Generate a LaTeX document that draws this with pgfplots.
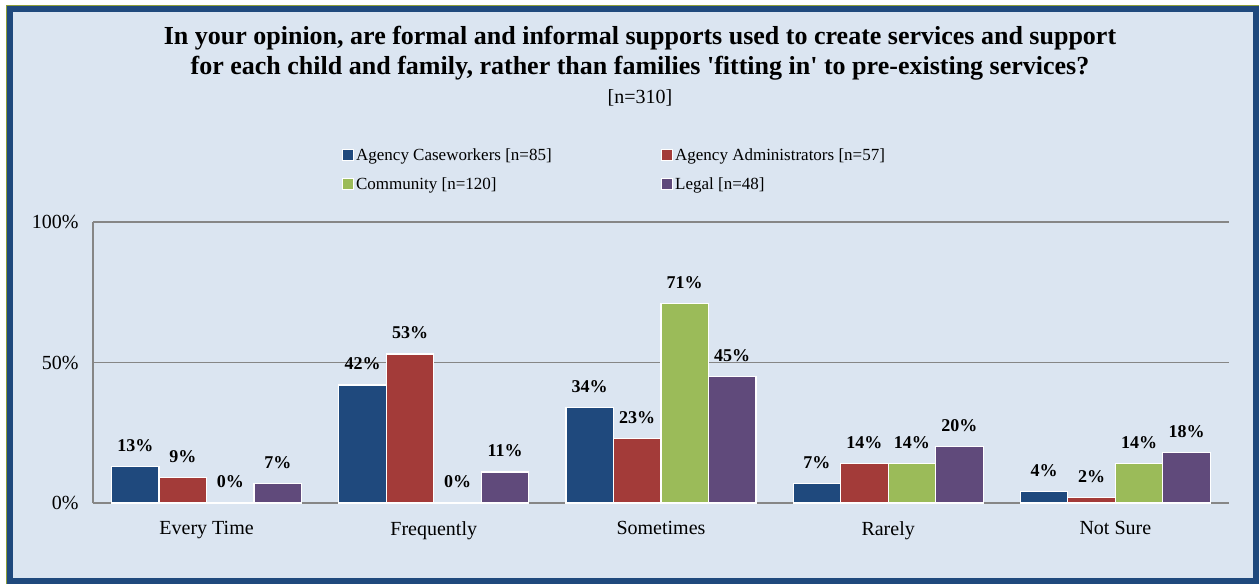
\documentclass[border=0pt]{standalone}
\usepackage{pgfplots}
\pgfplotsset{compat=1.18}
\usepackage{fontspec}
\setmainfont{Liberation Serif}
\definecolor{cblue}{HTML}{1F497D}
\definecolor{cred}{HTML}{A33B39}
\definecolor{cgreen}{HTML}{9BBB59}
\definecolor{cpurple}{HTML}{604A7B}
\definecolor{bgc}{HTML}{DBE5F1}
\definecolor{gridc}{HTML}{868686}
\definecolor{framec}{HTML}{1F497D}
\definecolor{olivec}{HTML}{8E9E3A}
\begin{document}
\begin{tikzpicture}
\useasboundingbox (0pt,0pt) rectangle (1259pt,584pt);
\fill[white] (0pt,0pt) rectangle (1259pt,584pt);
\fill[bgc] (6pt,0pt) rectangle (1259pt,578pt);
\draw[olivec, line width=1pt] (6.5pt,0pt) -- (6.5pt,578.5pt) -- (1259pt,578.5pt);
\draw[framec, line width=6pt] (10pt,3pt) rectangle (1256pt,575pt);
\node[font=\bfseries\fontsize{26}{30}\selectfont, align=center] at (640pt,531pt)
  {In your opinion, are formal and informal supports used to create services and support\\for each child and family, rather than families \textquotesingle fitting in\textquotesingle{} to pre-existing services?};
\node[font=\fontsize{20}{22}\selectfont] at (640pt,486pt) {[n=310]};
\begin{axis}[
  at={(93pt,81pt)}, anchor=south west,
  scale only axis, width=1136pt, height=281pt,
  ybar=0pt, bar width=47.5pt,
  xmin=-0.5, xmax=4.5, ymin=0, ymax=100,
  xtick={0,1,2,3,4},
  xticklabels={Every Time,Frequently,Sometimes,Rarely,Not Sure},
  ytick={0,50,100},
  yticklabel={\pgfmathprintnumber[assume math mode=true]{\tick}\%},
  ymajorgrids, grid style={gridc, line width=1.5pt},
  axis x line*=bottom, axis y line*=left,
  axis line style={gridc, line width=1.5pt, -},
  major tick length=0pt,
  tick label style={font=\fontsize{20}{22}\selectfont},
  xticklabel style={yshift=-15pt},
  yticklabel style={xshift=-11pt},
  every axis plot/.append style={draw=white, line width=1.2pt},
  nodes near coords={\pgfmathprintnumber[assume math mode=true]{\pgfplotspointmeta}\%},
  nodes near coords style={font=\bfseries\fontsize{18}{20}\selectfont, yshift=11pt, text=black},
  legend columns=2,
  legend image code/.code={\draw[#1,draw=white,line width=1pt] (0pt,-5pt) rectangle (11pt,6pt);},
  legend style={at={(0.2165,1.277)}, anchor=north west, draw=none, fill=none,
    font=\fontsize{17}{19}\selectfont, row sep=12pt,
    /tikz/every odd column/.append style={column sep=0pt},
    /tikz/every even column/.append style={column sep=0pt}},
  legend cell align=left,
]
\addplot[fill=cblue] coordinates {(0,13) (1,42) (2,34) (3,7) (4,4)};
\addplot[fill=cred] coordinates {(0,9) (1,53) (2,23) (3,14) (4,2)};
\addplot[fill=cgreen] coordinates {(0,0) (1,0) (2,71) (3,14) (4,14)};
\addplot[fill=cpurple] coordinates {(0,7) (1,11) (2,45) (3,20) (4,18)};
\addlegendentry{\makebox[303pt][l]{Agency Caseworkers [n=85]}}
\addlegendentry{Agency Administrators [n=57]}
\addlegendentry{Community [n=120]}
\addlegendentry{Legal [n=48]}
\end{axis}
\end{tikzpicture}
\end{document}
